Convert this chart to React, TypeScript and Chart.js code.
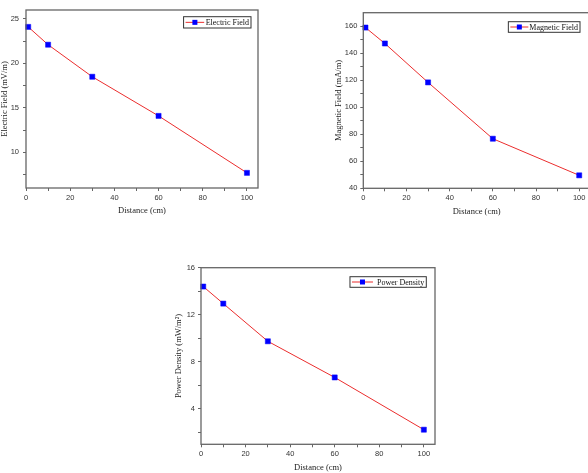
import React, { useEffect, useRef } from "react";
import { Chart, registerables } from "chart.js";
Chart.register(...registerables);

// ---- data ----
const distances = [1, 10, 30, 60, 100];
const electricField = [24.1, 22.1, 18.5, 14.1, 7.7];
const magneticField = [159, 147.2, 118.4, 76.7, 49.6];
const powerDensity = [14.4, 12.95, 9.75, 6.68, 2.24];

const distanceTicks = [0, 10, 20, 30, 40, 50, 60, 70, 80, 90, 100];
const electricTicks = [7.5, 10, 12.5, 15, 17.5, 20, 22.5, 25];
const magneticTicks = [40, 50, 60, 70, 80, 90, 100, 110, 120, 130, 140, 150, 160];
const powerTicks = [2, 4, 6, 8, 10, 12, 14, 16];

const TICK_FONT = { family: "'Liberation Sans', Arial, sans-serif", size: 7.5 };
const TITLE_FONT = { family: "'Liberation Serif', 'Times New Roman', serif", size: 8.5, lineHeight: 1 };
const LEGEND_FONT = "8px 'Liberation Serif', 'Times New Roman', serif";
const AXIS_COLOR = "#666";
const TEXT_COLOR = "#333";

type Panel = {
  key: string;
  label: string;
  yTitle: string;
  values: number[];
  yTicks: number[];
  yLabelStep: number;
  yMin: number;
  yMax: number;
  canvas: { left: number; top: number; width: number; height: number };
  area: { l: number; t: number; r: number; b: number };
  yTitleX: number;
  xTitleY: number;
  yTickPad: number;
  legend: { right: number; top: number; height: number; lineLen: number; gap: number };
};

const panels: Panel[] = [
  {
    key: "e",
    label: "Electric Field",
    yTitle: "Electric Field (mV/m)",
    values: electricField,
    yTicks: electricTicks,
    yLabelStep: 5,
    yMin: 6,
    yMax: 26,
    canvas: { left: 0, top: 0, width: 294, height: 222 },
    area: { l: 26, t: 10, r: 258, b: 188 },
    yTitleX: 4.5,
    xTitleY: 211,
    yTickPad: 4,
    legend: { right: 7, top: 6.7, height: 11.3, lineLen: 18.6, gap: 1.5 },
  },
  {
    key: "m",
    label: "Magnetic Field",
    yTitle: "Magnetic Field (mA/m)",
    values: magneticField,
    yTicks: magneticTicks,
    yLabelStep: 20,
    yMin: 40,
    yMax: 170,
    canvas: { left: 294, top: 0, width: 310, height: 222 },
    area: { l: 363.3, t: 12.7, r: 590, b: 188.3 },
    yTitleX: 339,
    xTitleY: 211.3,
    yTickPad: 3,
    legend: { right: 10, top: 9, height: 10.6, lineLen: 18, gap: 1 },
  },
  {
    key: "p",
    label: "Power Density",
    yTitle: "Power Density (mW/m\u00B2)",
    values: powerDensity,
    yTicks: powerTicks,
    yLabelStep: 4,
    yMin: 1,
    yMax: 16,
    canvas: { left: 150, top: 250, width: 300, height: 223 },
    area: { l: 201, t: 267.7, r: 435, b: 444.3 },
    yTitleX: 179,
    xTitleY: 468,
    yTickPad: 3,
    legend: { right: 8.7, top: 9, height: 10.6, lineLen: 21, gap: 4 },
  },
];

const frameLegendPlugin = {
  id: "frameLegend",
  afterDraw(chart: any, _args: any, opts: any) {
    const { ctx, chartArea } = chart;
    ctx.save();
    ctx.strokeStyle = AXIS_COLOR;
    ctx.lineWidth = 1.3;
    ctx.strokeRect(chartArea.left, chartArea.top, chartArea.right - chartArea.left, chartArea.bottom - chartArea.top);

    const ds = chart.data.datasets[0];
    ctx.font = LEGEND_FONT;
    const tw = ctx.measureText(ds.label).width;
    const w = 2 + opts.lineLen + opts.gap + tw + 2;
    const h = opts.height;
    const x0 = chartArea.right - opts.right - w;
    const y0 = chartArea.top + opts.top;
    ctx.fillStyle = "#fff";
    ctx.fillRect(x0, y0, w, h);
    ctx.strokeStyle = "#333";
    ctx.lineWidth = 1;
    ctx.strokeRect(x0, y0, w, h);
    const cy = y0 + h / 2;
    ctx.strokeStyle = ds.borderColor;
    ctx.lineWidth = 1;
    ctx.beginPath();
    ctx.moveTo(x0 + 2, cy);
    ctx.lineTo(x0 + 2 + opts.lineLen, cy);
    ctx.stroke();
    const s = 5;
    ctx.fillStyle = ds.pointBackgroundColor;
    ctx.fillRect(x0 + 2 + opts.lineLen / 2 - s / 2, cy - s / 2, s, s);
    ctx.fillStyle = "#111";
    ctx.textBaseline = "middle";
    ctx.textAlign = "left";
    ctx.fillText(ds.label, x0 + 2 + opts.lineLen + opts.gap, cy + 0.5);
    ctx.restore();
  },
};

function PanelChart({ p }: { p: Panel }) {
  const ref = useRef<HTMLCanvasElement>(null);
  useEffect(() => {
    const c = p.canvas;
    const yAxisWidth = p.area.l - c.left;
    const xAxisHeight = c.top + c.height - p.area.b;
    const lh = TITLE_FONT.size * TITLE_FONT.lineHeight;
    const chart = new Chart(ref.current as HTMLCanvasElement, {
      type: "line",
      data: {
        datasets: [
          {
            label: p.label,
            data: distances.map((x, i) => ({ x, y: p.values[i] })),
            borderColor: "rgb(235,45,45)",
            borderWidth: 1,
            pointStyle: "rect",
            pointRadius: 3.6,
            pointBackgroundColor: "#0000ff",
            pointBorderColor: "#0000ff",
            pointBorderWidth: 0.5,
            tension: 0,
            clip: false,
          } as any,
        ],
      },
      options: {
        responsive: false,
        animation: false,
        devicePixelRatio: 1,
        layout: {
          padding: {
            left: 0,
            top: p.area.t - c.top,
            right: c.left + c.width - p.area.r,
            bottom: 0,
          },
        },
        plugins: {
          legend: { display: false },
          tooltip: { enabled: false },
          frameLegend: p.legend,
        } as any,
        scales: {
          x: {
            type: "linear",
            min: 0,
            max: 105,
            afterBuildTicks: (scale: any) => {
              scale.ticks = distanceTicks.map((v) => ({ value: v }));
            },
            afterFit: (scale: any) => {
              scale.height = xAxisHeight;
            },
            ticks: {
              autoSkip: false,
              maxRotation: 0,
              padding: 2,
              font: TICK_FONT,
              color: TEXT_COLOR,
              callback: (v: any) => (Number(v) % 20 === 0 ? String(v) : ""),
            },
            grid: {
              display: true,
              drawOnChartArea: false,
              drawTicks: true,
              tickLength: 3,
              tickColor: AXIS_COLOR,
              tickWidth: 1,
            },
            border: { display: false },
            title: {
              display: true,
              text: "Distance (cm)",
              font: TITLE_FONT,
              color: "#222",
              padding: { top: 0, bottom: c.top + c.height - p.xTitleY - lh / 2 },
            },
          },
          y: {
            type: "linear",
            min: p.yMin,
            max: p.yMax,
            afterBuildTicks: (scale: any) => {
              scale.ticks = p.yTicks.map((v) => ({ value: v }));
            },
            afterFit: (scale: any) => {
              scale.width = yAxisWidth;
            },
            ticks: {
              autoSkip: false,
              padding: p.yTickPad,
              font: TICK_FONT,
              color: TEXT_COLOR,
              callback: (v: any) => (Math.abs(Number(v) % p.yLabelStep) < 1e-9 ? String(v) : ""),
            },
            grid: {
              display: true,
              drawOnChartArea: false,
              drawTicks: true,
              tickLength: 3,
              tickColor: AXIS_COLOR,
              tickWidth: 1,
            },
            border: { display: false },
            title: {
              display: true,
              text: p.yTitle,
              font: TITLE_FONT,
              color: "#222",
              padding: { top: p.yTitleX - c.left - lh / 2, bottom: 0 },
            },
          },
        },
      } as any,
      plugins: [frameLegendPlugin],
    });
    return () => chart.destroy();
  }, [p]);
  const c = p.canvas;
  return (
    <canvas
      ref={ref}
      width={c.width}
      height={c.height}
      style={{ position: "absolute", left: c.left, top: c.top, width: c.width, height: c.height }}
    />
  );
}

export default function App() {
  return (
    <div
      style={{
        position: "fixed",
        left: 0,
        top: 0,
        width: 588,
        height: 473,
        overflow: "hidden",
        background: "#fff",
      }}
    >
      {panels.map((p) => (
        <PanelChart key={p.key} p={p} />
      ))}
    </div>
  );
}
